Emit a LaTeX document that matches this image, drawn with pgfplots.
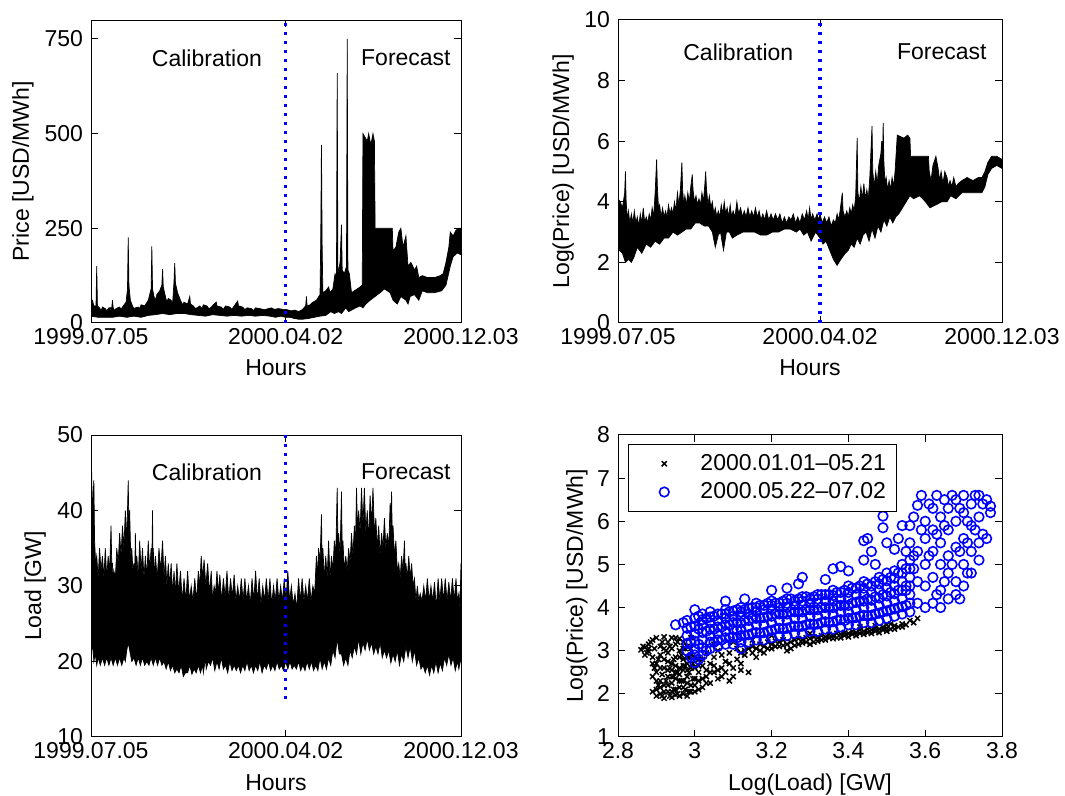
\documentclass[border=0pt]{standalone}
\usepackage{fontspec}
\setmainfont{Liberation Sans}
\usepackage{pgfplots}
\pgfplotsset{compat=1.18}
\pgfplotsset{
  panel/.style={scale only axis, anchor=south west, tick align=inside, major tick length=3.5pt,
    axis line style={line width=0.5pt}, every tick/.append style={line width=0.5pt, black},
    /pgf/number format/assume math mode=true,
    xticklabel style={yshift=1.2pt},
    tick label style={font=\fontsize{11.5}{14}\selectfont},
    label style={font=\fontsize{11.5}{14}\selectfont},
  },
  tsx/.style={xmin=0, xmax=517, xtick={0,272,517},
    xticklabels={1999.07.05,2000.04.02,2000.12.03}, xlabel={Hours},
    xlabel style={at={(axis description cs:0.5,-0.149)}, anchor=center}},
  sep/.style={blue, line width=1.6pt, dash pattern=on 1.5pt off 3pt},
  band/.style={draw=black, fill=black, line width=0.35pt},
}
\begin{document}
\fontsize{11.5}{14}\selectfont
\begin{tikzpicture}
\useasboundingbox (0,0) rectangle (532.5pt,398pt);
% ---------------- top left: price
\begin{axis}[panel, tsx, at={(45.5pt,236.5pt)}, width=185pt, height=151.5pt,
  ymin=0, ymax=800, ytick={0,250,500,750}, ylabel={Price [USD/MWh]},
  ylabel style={at={(axis description cs:-0.184,0.5)}, anchor=center}]
\addplot[band] coordinates {
(0,55)(2,60)(4,45)(7,45)(8,150)(9,45)(12,40)(14,32)(16,42)(20,38)(22,32)(25,40)(29,40)(30,60)(31,40)(33,33)(35,38)(40,42)(42,36)(45,45)(49,55)(51,90)(52,226)(53,100)(55,60)(58,45)(60,38)(62,40)(66,42)(68,38)(70,48)(75,45)(80,60)(84,90)(85,202)(86,90)(88,70)(90,60)(92,75)(96,85)(99,100)(100,142)(101,95)(104,70)(106,55)(108,65)(112,60)(114,50)(116,110)(117,158)(118,105)(121,80)(125,60)(128,48)(130,55)(135,50)(138,70)(139,50)(143,45)(146,38)(148,40)(152,45)(155,38)(157,48)(162,45)(165,37)(168,42)(172,50)(175,55)(176,45)(182,42)(185,36)(188,45)(194,42)(197,36)(200,45)(205,58)(206,45)(212,42)(215,35)(218,40)(224,38)(227,33)(230,40)(236,38)(242,35)(248,38)(252,40)(256,36)(262,38)(268,36)(272,36)(276,34)(280,32)(285,34)(290,30)(295,35)(300,45)(301,70)(302,45)(306,48)(310,55)(315,60)(320,75)(321,220)(322,470)(323,200)(324,80)(328,85)(332,95)(334,80)(338,90)(341,130)(343,120)(344,660)(345,130)(348,160)(350,260)(351,140)(354,130)(357,150)(358,750)(359,140)(361,130)(364,80)(368,85)(372,90)(376,95)(379,100)(380,500)(386,480)(388,500)(391,470)(394,500)(396,480)(397,250)(405,250)(415,250)(421,250)(422,190)(426,200)(430,240)(433,250)(436,200)(440,230)(443,150)(447,160)(452,140)(455,150)(458,120)(463,125)(470,120)(480,120)(488,125)(492,130)(496,160)(500,200)(502,240)(506,230)(510,245)(514,250)(517,250)
(517,180)(512,185)(506,175)(502,150)(496,100)(490,85)(480,80)(470,80)(463,85)(458,60)(452,75)(446,70)(443,50)(440,60)(433,70)(428,50)(422,60)(418,80)(410,90)(404,80)(397,70)(390,60)(384,50)(380,40)(376,45)(370,40)(365,35)(360,30)(356,40)(350,25)(346,30)(340,25)(335,30)(328,20)(320,18)(312,15)(304,12)(296,10)(290,10)(284,12)(278,15)(272,15)(265,18)(258,15)(250,18)(240,20)(230,18)(220,20)(210,18)(200,20)(190,18)(180,20)(170,22)(160,18)(150,20)(140,22)(130,25)(120,25)(110,22)(100,25)(90,22)(80,20)(70,15)(60,18)(50,15)(40,18)(30,15)(20,15)(10,15)(0,18)};
\addplot[sep] coordinates {(272,0)(272,800)};
\node at (axis cs:162,700) {Calibration};
\node at (axis cs:440,700) {Forecast};
\end{axis}
% ---------------- top right: log price
\begin{axis}[panel, tsx, at={(309pt,236.5pt)}, width=192pt, height=151.5pt,
  ymin=0, ymax=10, ytick={0,2,4,6,8,10}, ylabel={Log(Price) [USD/MWh]},
  ylabel style={at={(axis description cs:-0.143,0.5)}, anchor=center}]
\addplot[band] coordinates {
(0,4.1)(3,4.0)(6,3.8)(9,4.3)(10,5.0)(11,4.0)(12.5,3.4)(14,3.7)(16,3.3)(18,3.6)(20,3.3)(22,3.7)(24,3.3)(26,3.5)(28,3.2)(30,3.6)(32,3.3)(34,3.8)(36,3.3)(38,3.5)(40,3.3)(42,3.6)(44,3.4)(46,3.8)(48,3.5)(50,4.3)(52,5.4)(53,4.5)(54.5,3.8)(56,3.9)(58,3.5)(60,3.8)(62,3.5)(64,3.7)(66,3.5)(68,3.9)(70,3.6)(72,3.8)(74,3.6)(76,4.0)(78,3.7)(80,4.3)(82,3.9)(84,4.4)(86,5.3)(87,4.4)(88.5,3.9)(90,4.2)(92,3.9)(94,4.3)(96,4.0)(98,4.5)(100,4.9)(101,4.4)(103,4.0)(105,4.2)(107,3.9)(109,4.1)(111,3.9)(113,4.3)(115,4.0)(117,4.6)(118,5.0)(119,4.5)(121,3.9)(123,4.2)(125,3.8)(127,4.0)(129,3.6)(131,3.8)(133,3.5)(135,3.7)(137,3.5)(139,3.9)(141,3.6)(143,4.0)(145,3.6)(147,3.8)(149,3.5)(151,3.9)(153,3.5)(155,3.7)(157.5,3.5)(160,4.0)(162.5,3.6)(165,3.8)(167.5,3.5)(170,3.7)(172.5,3.5)(175,3.8)(177.5,3.5)(180,3.7)(182.5,3.5)(185,3.8)(187.5,3.5)(190,3.7)(192.5,3.4)(195,3.6)(197.5,3.4)(200,3.7)(203,3.4)(206,3.6)(209,3.4)(212,3.6)(215,3.4)(218,3.6)(221,3.3)(224,3.5)(227,3.3)(230,3.5)(233,3.4)(236,3.6)(239,3.3)(242,3.5)(245,3.3)(248,3.6)(251,3.4)(254,3.7)(256,3.4)(258,3.8)(260,3.4)(262,3.6)(265,3.4)(268,3.6)(270,3.4)(272,3.6)(275,3.3)(278,3.5)(281,3.3)(284,3.5)(287,3.2)(290,3.4)(292.5,3.3)(295,3.6)(297,3.4)(299,3.7)(302,4.3)(303,3.7)(305.5,3.5)(308,3.7)(310,3.5)(312,3.8)(314,3.6)(316,3.9)(318,3.7)(320,4.2)(322,6.1)(323,4.3)(325,4.0)(327,4.5)(329,4.1)(331,4.6)(333,4.1)(335,4.4)(337,4.1)(339,4.8)(342,6.5)(343,5.0)(345,4.5)(347,5.0)(349,4.6)(351,5.2)(354,5.6)(355,6.0)(356,5.2)(357,6.6)(358,5.3)(359.5,4.6)(361,4.8)(363,4.4)(365,4.7)(367,4.4)(369,4.8)(371,4.5)(373,5.0)(376,6.2)(385,6.1)(390,6.2)(393,6.1)(394,5.5)(405,5.5)(412,5.5)(418,5.5)(419,5.0)(421.5,4.7)(424,5.2)(428,5.5)(431,5.1)(433,4.7)(435,5.0)(437.5,4.6)(440,5.0)(443,4.8)(445,4.5)(447,4.7)(449.5,4.5)(452,4.8)(455,4.5)(458,4.6)(463,4.7)(470,4.8)(478,4.7)(485,4.8)(490,4.8)(494,5.0)(498,5.3)(503,5.5)(510,5.5)(517,5.4)
(517,5.1)(510,5.2)(503,5.1)(498,4.9)(494,4.5)(490,4.3)(480,4.3)(470,4.3)(463,4.3)(455,4.1)(448,4.2)(443,4.0)(436,4.0)(428,3.9)(420,3.8)(414,4.0)(406,4.2)(398,4.1)(393,4.2)(388,4.0)(383,3.8)(378,3.6)(374,3.5)(370,3.3)(366,3.5)(362,3.2)(358,3.4)(354,3.0)(350,3.2)(346,2.8)(342,3.1)(338,2.7)(334,3.0)(330,2.9)(326,2.6)(322,2.8)(318,2.5)(314,2.6)(310,2.4)(306,2.3)(300,2.1)(295,1.9)(290,2.1)(285,2.4)(280,2.7)(276,2.6)(272,2.8)(266,3.0)(260,2.7)(255,3.0)(250,2.9)(245,3.1)(240,3.0)(232,3.1)(224,3.1)(216,3.0)(208,3.0)(200,2.9)(192,2.9)(184,3.0)(176,3.0)(168,3.0)(160,2.9)(154,2.8)(150,3.0)(146,3.0)(142,2.4)(138,3.0)(135,2.9)(131,2.5)(127,3.0)(122,3.2)(116,3.2)(110,3.3)(104,3.3)(98,3.1)(92,3.1)(86,3.0)(80,2.9)(74,3.0)(68,2.8)(62,2.8)(56,2.6)(50,2.7)(44,2.5)(38,2.6)(32,2.3)(26,2.5)(22,2.2)(18,2.0)(14,2.1)(10,2.0)(6,2.3)(2,2.4)(0,2.7)};
\addplot[sep] coordinates {(272,0)(272,10)};
\node at (axis cs:162,8.94) {Calibration};
\node at (axis cs:436,8.94) {Forecast};
\end{axis}
% ---------------- bottom left: load
\begin{axis}[panel, tsx, at={(45.5pt,29.5pt)}, width=185pt, height=151pt,
  ymin=10, ymax=50, ytick={10,20,30,40,50}, ylabel={Load [GW]},
  ylabel style={at={(axis description cs:-0.151,0.5)}, anchor=center},
  xlabel style={at={(axis description cs:0.5,-0.152)}, anchor=center}]
\addplot[band] coordinates {
(0,37)(1,45)(2,38)(3,42)(4,44)(5,36)(6.5,33)(8,34)(10,31)(12,35)(14,32)(16,34)(18,31)(20,35)(22,31)(24,34)(26,32)(28,38)(29,33)(30,33)(31,30)(32,32)(34,31)(36,35)(38,33)(40,37)(42,34)(44,38)(46,35)(48,40)(50,36)(52,44)(53,38)(54,40)(55.5,34)(57,35)(58.5,32)(60,33)(61,31)(62,37)(63,32)(64,34)(66,31)(68,36)(70,32)(72,35)(74,31)(76,34)(78,31)(80,36)(82,32)(84,35)(85,33)(86,40)(86.5,33)(87,35)(88.5,31)(90,34)(92.5,31)(95,35)(97.5,32)(100,36)(102,31)(104,34)(106,30)(108,33)(110,30)(112,33)(114,29)(116,32)(118,29)(120,33)(122.5,29)(125,32)(127.5,28)(130,31)(132.5,28)(135,32)(137.5,28)(140,30)(142.5,28)(145,31)(147.5,28)(150,32)(152,30)(154,34)(156,31)(158,33.5)(160.5,30)(163,33)(165.5,29)(168,32)(170,28)(172,30)(174,29)(176,32)(178,29)(180,31.5)(182.5,28)(185,31)(187.5,28.5)(190,32)(192.5,28)(195,31)(197.5,28.5)(200,31.5)(202.5,28)(205,30)(207.5,28)(210,31)(212.5,28)(215,31)(217.5,28)(220,30)(222.5,27.5)(225,31)(227.5,28)(230,32)(232.5,28)(235,31)(237.5,27.5)(240,30)(242.5,28)(245,31)(247.5,28)(250,31)(252.5,27.5)(255,30)(257.5,28)(260,31)(262.5,28)(265,30)(267.5,28)(270,31)(272.5,28)(275,32)(277.5,28)(280,30)(282.5,27.5)(285,29)(287.5,27)(290,31)(292.5,28)(295,31)(297.5,28)(300,30)(302.5,28)(305,31)(307.5,28)(310,30)(312.5,29)(315,34)(316.5,31)(318,35)(320,33)(322,39.5)(323,33)(324,35)(326,31)(328,34)(330,31)(332,36)(334,31)(336,34)(338,32)(340,36)(342,34)(344,43)(345,36)(346,37)(348,34)(350,42.5)(351,35)(352,36)(354,32)(356,34)(358,32)(360,35)(362,33)(364,37)(366,34)(368,38)(369.5,35)(371,43)(372.5,37)(374,40)(376,37)(378,43)(380,38)(382,43)(384,37)(386,40)(388,36)(390,42)(392,38)(394,43)(396,37)(398,39)(400,35)(402,38)(404,34)(406,37)(408,35)(410,39)(412,35)(414,37)(416,35)(418,41)(419,37)(420,42.5)(421,36)(422,38)(424,34)(426,36)(428,32)(430,33)(432,31)(434,34)(436,32)(438,36)(439,32)(440,33)(442,31)(444,34)(446,31)(448,33)(450,30)(452,31)(454,28)(456,30)(458,28)(460,29)(462.5,28)(465,30)(467.5,28)(470,31)(472.5,28)(475,30)(477.5,28)(480,30.5)(482.5,27)(485,31)(487.5,28)(490,31)(492.5,28)(495,31)(497.5,28)(500,30.5)(502.5,28)(505,31)(507.5,28)(510,31)(512,28)(514,29)(515.5,27)(517,33)
(517,20.5)(514,19)(512,20)(509,18.8)(506,20.5)(503,19.5)(500,21)(497,19.5)(494,20.5)(491,18.8)(488,19.8)(485,18.5)(482,20)(479,18.5)(476,19.5)(473,18.2)(470,19.5)(467,18.5)(464,19.5)(461,19)(458,20.5)(455,19.5)(452,21.5)(449,20)(446,22)(443,20.5)(440,22)(437,20)(434,21)(431,19.5)(428,21.5)(425,20)(422,21)(419,19.8)(416,21.5)(413,20.5)(410,21.5)(407,20.5)(404,22.5)(401,21)(398,22)(395,21)(392,22.5)(389,21.5)(386,23)(383,21.5)(380,22.5)(377,21)(374,23)(371,21)(368,22)(365,20.5)(362,21.5)(359,19.5)(356,20.5)(353,19.5)(350,21)(347,21)(344,23)(341,20.5)(338,21.5)(335,19.5)(332,20.5)(329,19)(326,20)(323,19)(320,20.5)(317,18.8)(314,19.5)(311,18.8)(308,20)(305,19)(302,20)(299,18.8)(296,19.5)(293,18.8)(290,20)(287,19)(284,19.5)(281,19)(278,20)(275,19)(272,20)(269,18.8)(266,19.5)(263,19)(260,20)(257,18.8)(254,19.5)(251,18.8)(248,20)(245,19)(242,19.5)(239,18.5)(236,20)(233,18.8)(230,19.5)(227,18.5)(224,19.5)(221,18.8)(218,20)(215,18.8)(212,19.5)(209,18.5)(206,19.5)(203,18.8)(200,19.5)(197,18.8)(194,20)(191,18.5)(188,19.5)(185,19)(182,20.5)(179,19)(176,20)(173,18.8)(170,20.5)(167,19.5)(164,20)(161,19)(160,20.5)(157,18.5)(156,19.5)(153,18.5)(150,19.5)(147,18.5)(144,19)(141,18.3)(138,19.5)(135,18.5)(132,18.5)(129,18)(126,19.5)(123,18.5)(120,19)(117,18.5)(114,19.5)(111,18.8)(108,20)(105,19)(102,20)(99,19.5)(96,20.5)(93,19.5)(90,20.5)(87,19.5)(84,20.5)(81,19.5)(78,20)(75,19.5)(72,20.5)(69,19.5)(66,20.5)(63,19.5)(60,20.5)(57,20)(54,21.5)(52,22.5)(50,21.5)(48,20)(46,20.5)(43,19.5)(40,20.5)(37,19.5)(34,20.5)(31,19.5)(28,20.5)(25,19.5)(22,20.5)(19,19.5)(16,20.5)(13,19.5)(10,20.5)(8,19.5)(6,21)(4,20)(2,23)(1,21)(0,21)};
\addplot[sep] coordinates {(272,15)(272,50)};
\node at (axis cs:162,45.1) {Calibration};
\node at (axis cs:440,45.1) {Forecast};
\end{axis}
% ---------------- bottom right: scatter
\begin{axis}[panel, at={(309pt,29.5pt)}, width=192pt, height=151pt,
  xmin=2.8, xmax=3.8, xtick={2.8,3,3.2,3.4,3.6,3.8},
  ymin=1, ymax=8, ytick={1,2,3,4,5,6,7,8},
  xlabel={Log(Load) [GW]}, ylabel={Log(Price) [USD/MWh]},
  xlabel style={at={(axis description cs:0.5,-0.159)}, anchor=center},
  ylabel style={at={(axis description cs:-0.107,0.5)}, anchor=center},
  legend style={at={(0.026,0.97)}, anchor=north west, draw=black, line width=0.5pt,
    inner xsep=3pt, inner ysep=2.5pt,
    nodes={font=\fontsize{11.5}{14}\selectfont, inner sep=2.2pt},
    font=\fontsize{11.5}{14}\selectfont, cells={anchor=west}},
  legend image code/.code={\path (0pt,0pt) (30pt,0pt); \draw[#1] plot coordinates {(14.5pt,0pt)};},
  legend cell align=left]
\addplot[only marks, mark=x, mark size=1.8pt, black, line width=0.75pt] coordinates {
(2.86,3.02)(2.87,3.08)(2.88,2.98)(2.88,3.15)(2.89,3.25)(2.89,2.85)(2.90,3.30)(2.90,2.70)(2.90,2.50)(2.90,2.10)(2.90,1.95)(2.91,3.10)(2.91,2.90)(2.91,2.30)(2.91,2.00)(2.92,3.32)(2.92,2.60)(2.92,2.20)(2.92,1.90)(2.93,3.20)(2.93,2.95)(2.93,2.75)(2.93,2.40)(2.93,2.05)(2.94,3.30)(2.94,3.05)(2.94,2.55)(2.94,2.25)(2.94,1.92)(2.95,3.15)(2.95,2.85)(2.95,2.65)(2.95,2.35)(2.95,2.10)(2.96,3.28)(2.96,3.00)(2.96,2.45)(2.96,2.15)(2.96,1.95)(2.97,3.20)(2.97,2.80)(2.97,2.55)(2.97,2.30)(2.97,2.00)(2.98,3.10)(2.98,2.70)(2.98,2.40)(2.98,1.95)(2.99,3.30)(2.99,2.90)(2.99,2.20)(3.00,2.60)(3.00,2.35)(3.00,2.05)(3.01,2.80)(3.01,2.50)(3.02,2.15)(3.02,2.65)(3.03,2.40)(3.03,2.95)(3.04,2.25)(3.04,2.70)(3.05,2.50)(3.05,2.85)(3.06,2.35)(3.06,3.00)(3.07,2.60)(3.07,2.40)(3.08,2.75)(3.09,2.30)(3.09,2.95)(3.10,2.60)(3.11,3.05)(3.12,2.70)(3.13,2.90)(3.14,2.50)(3.15,3.10)(3.16,2.85)(3.17,3.15)(3.18,2.95)(3.19,3.20)(3.20,3.05)(3.21,3.22)(3.22,3.10)(3.23,3.25)(3.24,3.00)(3.25,3.20)(3.26,3.12)(3.27,3.28)(3.28,3.18)(3.29,3.30)(3.30,3.15)(3.31,3.32)(3.32,3.22)(3.33,3.35)(3.34,3.25)(3.35,3.38)(3.36,3.28)(3.37,3.40)(3.38,3.30)(3.39,3.42)(3.40,3.32)(3.41,3.45)(3.42,3.35)(3.43,3.48)(3.44,3.38)(3.45,3.50)(3.46,3.40)(3.47,3.52)(3.48,3.42)(3.49,3.55)(3.50,3.45)(3.50,3.60)(3.52,3.58)(3.54,3.62)(3.56,3.70)(3.58,3.75)(3.20,3.35)(3.30,3.40)(3.10,3.20)(3.15,3.25)(3.05,3.15)
(2.865,3.1)(2.875,2.95)(2.885,3.2)(2.895,3.05)(2.895,2.6)(2.905,2.8)(2.905,2.2)(2.915,3.2)(2.915,2.45)(2.915,1.95)(2.925,3.0)(2.925,2.3)(2.935,3.1)(2.935,2.6)(2.935,1.95)(2.945,2.8)(2.945,2.4)(2.945,2.1)(2.955,3.2)(2.955,2.5)(2.955,2.0)(2.965,2.9)(2.965,2.3)(2.975,3.05)(2.975,2.65)(2.975,2.1)(2.985,2.85)(2.985,2.5)(2.985,2.05)(2.995,2.7)(2.995,2.35)
(3.01,2.3)(3.03,2.55)(3.05,2.65)(3.07,2.9)(3.09,2.7)(3.11,2.8)(3.13,3.0)(3.15,2.95)(3.17,3.0)(3.19,3.05)(3.21,3.1)(3.23,3.12)(3.25,3.05)(3.27,3.15)(3.29,3.2)(3.31,3.2)(3.33,3.25)(3.35,3.3)(3.37,3.3)(3.39,3.35)(3.41,3.38)(3.43,3.4)(3.45,3.42)(3.47,3.45)(3.49,3.48)(3.51,3.5)(3.53,3.55)(3.55,3.6)(3.51,3.62)(3.47,3.58)(3.43,3.55)(3.57,3.65)
(2.87,2.9)(2.88,3.05)(2.89,2.7)(2.89,2.4)(2.89,2.05)(2.90,2.3)(2.91,2.6)(2.91,2.15)(2.92,2.8)(2.92,3.05)(2.92,2.05)(2.93,2.55)(2.93,2.2)(2.94,2.7)(2.94,2.4)(2.94,2.05)(2.95,3.3)(2.95,2.5)(2.95,1.98)(2.96,2.85)(2.96,2.6)(2.96,2.3)(2.97,3.05)(2.97,2.65)(2.97,2.15)(2.98,2.85)(2.98,2.55)(2.98,2.25)(2.99,3.05)(2.99,2.6)(2.99,2.05)(3.00,2.85)(3.00,2.2)(3.01,2.65)(3.01,2.1)(3.02,2.35)(3.02,2.8)(3.03,2.25)(3.04,2.5)(3.06,2.55)(3.08,2.5)(3.10,2.4)(3.12,2.55)
(3.12,2.95)(3.14,3.05)(3.16,3.05)(3.18,3.1)(3.20,3.15)(3.22,3.2)(3.24,3.15)(3.26,3.25)(3.28,3.25)(3.30,3.28)(3.32,3.3)(3.34,3.32)(3.36,3.35)(3.38,3.38)(3.40,3.4)(3.42,3.42)(3.44,3.45)(3.46,3.48)(3.48,3.5)(3.50,3.52)(3.52,3.5)(3.54,3.55)};
\addlegendentry{2000.01.01–05.21}
\addplot[only marks, mark=o, mark size=2.4pt, blue, line width=0.8pt] coordinates {
(2.98,3.0)(2.98,3.35)(2.98,3.7)(3.00,2.72)(3.00,3.05)(3.00,3.4)(3.00,3.75)(3.02,2.9)(3.02,3.25)(3.02,3.6)(3.02,3.85)(3.04,3.05)(3.04,3.35)(3.04,3.65)(3.04,3.9)(3.06,3.1)(3.06,3.4)(3.06,3.7)(3.08,3.15)(3.08,3.45)(3.08,3.75)(3.08,3.95)(3.10,3.15)(3.10,3.5)(3.10,3.8)(3.12,3.2)(3.12,3.5)(3.12,3.8)(3.12,4.0)(3.14,3.2)(3.14,3.55)(3.14,3.85)(3.16,3.25)(3.16,3.6)(3.16,3.9)(3.16,4.1)(3.18,3.25)(3.18,3.6)(3.18,3.95)(3.20,3.3)(3.20,3.65)(3.20,3.95)(3.20,4.15)(3.22,3.35)(3.22,3.7)(3.22,4.0)(3.24,3.35)(3.24,3.7)(3.24,4.0)(3.24,4.2)(3.26,3.4)(3.26,3.75)(3.26,4.05)(3.28,3.4)(3.28,3.75)(3.28,4.05)(3.28,4.25)(3.30,3.45)(3.30,3.8)(3.30,4.1)(3.32,3.45)(3.32,3.8)(3.32,4.1)(3.32,4.3)(3.34,3.5)(3.34,3.85)(3.34,4.15)(3.36,3.5)(3.36,3.85)(3.36,4.15)(3.36,4.4)(3.38,3.55)(3.38,3.9)(3.38,4.2)(3.40,3.6)(3.40,3.9)(3.40,4.2)(3.40,4.5)(3.42,3.6)(3.42,3.95)(3.42,4.3)(3.44,3.65)(3.44,4.0)(3.44,4.3)(3.44,4.6)(3.46,3.65)(3.46,4.0)(3.46,4.35)(3.48,3.7)(3.48,4.05)(3.48,4.4)(3.48,4.7)(3.50,3.75)(3.50,4.1)(3.50,4.45)(3.50,4.8)(3.52,3.8)(3.52,4.15)(3.52,4.5)(3.52,4.85)(3.54,3.85)(3.54,4.2)(3.54,4.6)(3.54,5.0)(3.56,3.9)(3.56,4.3)(3.56,4.7)(3.56,5.1)
(2.99,2.85)(2.99,3.2)(2.99,3.55)(3.01,2.8)(3.01,3.15)(3.01,3.5)(3.01,3.8)(3.03,3.0)(3.03,3.45)(3.03,3.75)(3.05,3.2)(3.05,3.5)(3.05,3.8)(3.07,3.25)(3.07,3.55)(3.07,3.85)(3.09,3.3)(3.09,3.6)(3.09,3.9)(3.11,3.3)(3.11,3.65)(3.11,3.95)(3.13,3.35)(3.13,3.7)(3.13,3.95)(3.15,3.4)(3.15,3.75)(3.15,4.0)(3.17,3.4)(3.17,3.75)(3.17,4.05)(3.19,3.45)(3.19,3.8)(3.19,4.1)(3.21,3.5)(3.21,3.85)(3.21,4.1)(3.23,3.5)(3.23,3.85)(3.23,4.15)(3.25,3.55)(3.25,3.9)(3.25,4.2)(3.27,3.55)(3.27,3.9)(3.27,4.2)(3.29,3.6)(3.29,3.95)(3.29,4.25)(3.31,3.6)(3.31,3.95)(3.31,4.25)(3.33,3.65)(3.33,4.0)(3.33,4.3)(3.35,3.65)(3.35,4.0)(3.35,4.3)(3.37,3.7)(3.37,4.05)(3.37,4.35)(3.39,3.7)(3.39,4.05)(3.39,4.4)(3.41,3.75)(3.41,4.1)(3.41,4.45)(3.43,3.8)(3.43,4.15)(3.43,4.5)(3.45,3.8)(3.45,4.2)(3.45,4.55)(3.47,3.85)(3.47,4.25)(3.47,4.6)(3.49,3.9)(3.49,4.3)(3.49,4.65)(3.51,3.95)(3.51,4.35)(3.51,4.7)(3.53,4.0)(3.53,4.4)(3.53,4.8)(3.55,4.05)(3.55,4.5)(3.55,4.9)
(2.98,3.17)(2.98,3.52)(3.00,2.9)(3.00,3.22)(3.00,3.57)(3.02,3.07)(3.02,3.42)(3.02,3.72)(3.04,3.2)(3.04,3.5)(3.04,3.78)(3.06,3.25)(3.06,3.55)(3.06,3.85)(3.08,3.3)(3.08,3.6)(3.08,3.85)(3.10,3.32)(3.10,3.65)(3.10,3.92)(3.12,3.35)(3.12,3.65)(3.12,3.9)(3.14,3.37)(3.14,3.7)(3.14,3.98)(3.16,3.42)(3.16,3.75)(3.16,4.0)(3.18,3.42)(3.18,3.77)(3.18,4.05)(3.20,3.47)(3.20,3.8)(3.20,4.05)(3.22,3.52)(3.22,3.85)(3.22,4.1)(3.24,3.52)(3.24,3.85)(3.24,4.1)(3.26,3.57)(3.26,3.9)(3.26,4.15)(3.28,3.57)(3.28,3.9)(3.28,4.15)(3.30,3.62)(3.30,3.95)(3.30,4.2)(3.32,3.62)(3.32,3.95)(3.32,4.2)(3.34,3.67)(3.34,4.0)(3.34,4.3)(3.36,3.67)(3.36,4.0)(3.36,4.28)(3.38,3.72)(3.38,4.05)(3.38,4.35)(3.40,3.75)(3.40,4.05)(3.40,4.35)(3.42,3.77)(3.42,4.12)(3.42,4.45)(3.44,3.82)(3.44,4.15)(3.44,4.45)(3.46,3.82)(3.46,4.17)(3.46,4.5)(3.48,3.87)(3.48,4.22)(3.48,4.55)(3.50,3.92)(3.50,4.27)(3.50,4.62)(3.52,3.97)(3.52,4.32)(3.52,4.68)(3.54,4.02)(3.54,4.4)(3.54,4.8)(3.56,4.1)(3.56,4.5)(3.56,4.9)
(2.95,3.60)(2.97,3.65)(3.00,3.95)(3.08,4.15)(3.13,4.2)(3.12,3.05)(3.11,3.47)(3.20,4.4)(3.24,4.45)(3.28,4.7)(3.27,4.55)(3.34,4.65)(3.36,4.9)(3.40,4.85)(3.38,4.95)(3.44,5.1)(3.45,5.6)(3.44,5.55)(3.46,5.3)(3.49,6.12)(3.49,5.85)(3.50,5.5)(3.52,5.35)(3.47,5.0)
(3.56,5.5)(3.56,5.9)(3.57,6.1)(3.58,4.1)(3.58,4.6)(3.58,5.3)(3.58,6.37)(3.59,6.6)(3.60,4.0)(3.60,4.5)(3.60,5.0)(3.60,5.6)(3.60,6.0)(3.62,4.1)(3.62,4.7)(3.62,5.3)(3.62,5.8)(3.62,6.3)(3.63,6.6)(3.64,4.0)(3.64,4.4)(3.64,5.0)(3.64,5.5)(3.64,6.1)(3.65,6.5)(3.66,4.2)(3.66,4.8)(3.66,5.2)(3.66,5.8)(3.66,6.3)(3.67,6.6)(3.68,4.3)(3.68,4.6)(3.68,5.4)(3.68,6.0)(3.68,6.5)(3.70,4.5)(3.70,5.0)(3.70,5.6)(3.70,6.2)(3.70,6.6)(3.71,4.8)(3.72,4.8)(3.72,5.3)(3.72,5.9)(3.72,6.4)(3.73,6.6)(3.74,5.1)(3.74,5.5)(3.74,6.1)(3.74,6.6)(3.75,5.7)(3.75,6.4)(3.76,5.6)(3.76,6.5)(3.77,6.35)(3.77,6.2)
(3.55,4.4)(3.57,4.9)(3.61,5.2)(3.63,4.3)(3.65,4.6)(3.67,5.0)(3.69,5.3)(3.71,5.5)(3.69,4.2)(3.59,5.8)(3.61,6.4)(3.65,5.9)(3.69,6.3)(3.73,5.8)(3.71,6.0)(3.63,5.7)(3.57,5.2)(3.55,5.3)(3.53,5.6)(3.54,5.9)};
\addlegendentry{2000.05.22–07.02}
\end{axis}
\end{tikzpicture}
\end{document}
